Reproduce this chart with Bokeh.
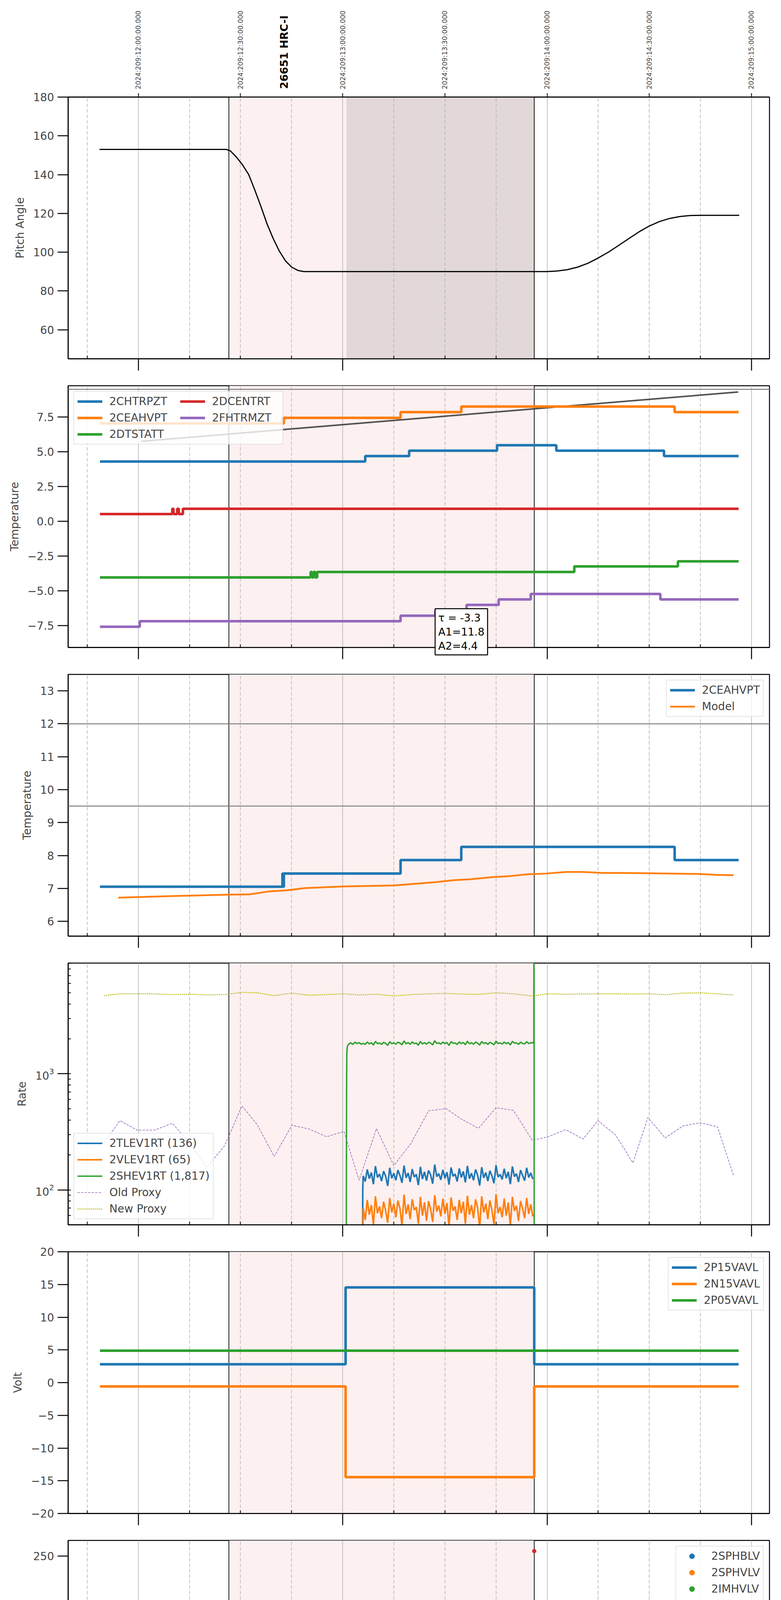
import math
from bokeh.plotting import figure
from bokeh.layouts import column
from bokeh.core.properties import value
from bokeh.models import (Range1d, LinearAxis, FixedTicker, Grid, BoxAnnotation, Span,
                          Legend, LegendItem, CustomJSTickFormatter)
from bokeh.embed import file_html
from bokeh.resources import INLINE

FONT = "DejaVu Sans"
C_BLUE, C_ORANGE, C_GREEN, C_RED = "#1f77b4", "#ff7f0e", "#2ca02c", "#d62728"
C_PURPLE, C_OLIVE = "#9467bd", "#bcbd22"
NAN = float("nan")

# ---------------- axis / time data (hours of 2024-07-27 local) ----------------
hour_ticks = [8.0, 9.0, 10.0, 11.0]
hour_labels = ["08h", "09h", "10h", "11h"]
quarter_ticks = [7.75, 8.25, 8.5, 8.75, 9.25, 9.5, 9.75, 10.25, 10.5, 10.75]
quarter_labels = ["45", "15", "30", "45", "15", "30", "45", "15", "30", "45"]
top_ticks = [8.0, 8.5, 9.0, 9.5, 10.0, 10.5, 11.0]
top_labels = ["2024:209:12:00:00.000", "2024:209:12:30:00.000", "2024:209:13:00:00.000",
              "2024:209:13:30:00.000", "2024:209:14:00:00.000", "2024:209:14:30:00.000",
              "2024:209:15:00:00.000"]
x_title = "2024-07-27 (209)"
obs_label = "26651 HRC-I"
obs_label_time = 8.714
obs_start, obs_stop = 8.443, 9.937
slew_stop = 9.018

# ---------------- panel 1: pitch ----------------
pitch_t = [7.810, 8.000, 8.200, 8.400, 8.430, 8.450, 8.480, 8.510, 8.540, 8.570, 8.600,
           8.630, 8.660, 8.690, 8.720, 8.750, 8.780, 8.810, 9.000, 9.500, 10.000, 10.050,
           10.100, 10.150, 10.200, 10.250, 10.300, 10.350, 10.400, 10.450, 10.500, 10.550,
           10.600, 10.650, 10.700, 10.760, 10.850, 10.940]
pitch_v = [153.0, 153.0, 153.0, 153.0, 153.0, 152.3, 149.0, 145.0, 140.0, 132.0, 123.5,
           114.5, 107.0, 100.5, 95.5, 92.3, 90.6, 90.0, 90.0, 90.0, 90.0, 90.3,
           91.0, 92.3, 94.3, 97.0, 100.0, 103.5, 107.0, 110.5, 113.5, 115.8,
           117.4, 118.4, 118.9, 119.0, 119.0, 119.0]
pitch_yticks = [60, 80, 100, 120, 140, 160, 180]

# ---------------- panel 2: temperatures ----------------
chtr_t = [7.812, 9.110, 9.325, 9.755, 10.045, 10.572, 10.937]
chtr_v = [4.31, 4.70, 5.09, 5.48, 5.09, 4.70, 4.70]
ceah_t = [7.812, 8.705, 8.708, 8.712, 9.283, 9.580, 10.624, 10.937]
ceah_v = [7.05, 7.45, 7.05, 7.45, 7.86, 8.26, 7.86, 7.86]
dtst_t = [7.812, 8.843, 8.850, 8.858, 8.866, 8.875, 10.133, 10.640, 10.937]
dtst_v = [-4.03, -3.64, -4.03, -3.64, -4.03, -3.64, -3.24, -2.87, -2.87]
dcen_t = [7.812, 8.166, 8.172, 8.190, 8.198, 8.218, 10.937]
dcen_v = [0.53, 0.91, 0.53, 0.91, 0.53, 0.91, 0.91]
fhtr_t = [7.812, 8.007, 9.283, 9.453, 9.606, 9.763, 9.920, 10.554, 10.937]
fhtr_v = [-7.58, -7.18, -6.79, -6.40, -6.01, -5.61, -5.22, -5.61, -5.61]
trend_t = [8.013, 10.935]
trend_v = [5.76, 9.31]
temp_yticks = [-7.5, -5.0, -2.5, 0.0, 2.5, 5.0, 7.5]
fit_text = "τ = -3.3\nA1=11.8\nA2=4.4"
fit_pos = (9.452, -6.28)

# ---------------- panel 3: 2CEAHVPT vs model ----------------
model_t = [7.902, 8.178, 8.447, 8.544, 8.641, 8.726, 8.816, 9.006, 9.250, 9.372, 9.457,
           9.543, 9.628, 9.726, 9.811, 9.908, 9.994, 10.091, 10.176, 10.274, 10.371,
           10.493, 10.737, 10.834, 10.912]
model_v = [6.72, 6.77, 6.81, 6.82, 6.91, 6.94, 7.01, 7.06, 7.09, 7.15, 7.19,
           7.25, 7.28, 7.34, 7.37, 7.43, 7.45, 7.50, 7.50, 7.47, 7.47,
           7.46, 7.44, 7.41, 7.40]
ceah_limits = [12.0, 9.5]
ceah_yticks = [6, 7, 8, 9, 10, 11, 12, 13]

# ---------------- panel 4: rates ----------------
t_on = [9.10, 9.11, 9.12, 9.13, 9.14, 9.15, 9.16, 9.17, 9.18, 9.19, 9.20, 9.21,
        9.22, 9.23, 9.24, 9.25, 9.26, 9.27, 9.28, 9.29, 9.30, 9.31, 9.32, 9.33,
        9.34, 9.35, 9.36, 9.37, 9.38, 9.39, 9.40, 9.41, 9.42, 9.43, 9.44, 9.45,
        9.46, 9.47, 9.48, 9.49, 9.50, 9.51, 9.52, 9.53, 9.54, 9.55, 9.56, 9.57,
        9.58, 9.59, 9.60, 9.61, 9.62, 9.63, 9.64, 9.65, 9.66, 9.67, 9.68, 9.69,
        9.70, 9.71, 9.72, 9.73, 9.74, 9.75, 9.76, 9.77, 9.78, 9.79, 9.80, 9.81,
        9.82, 9.83, 9.84, 9.85, 9.86, 9.87, 9.88, 9.89, 9.90, 9.91, 9.92, 9.93]
tlev_lead_t = [9.097, 9.098]
tlev_lead_v = [20, 100]
tlev_v = [132, 118, 150, 125, 141, 112, 160, 128, 137, 119, 145, 131,
          108, 155, 126, 139, 121, 148, 133, 115, 162, 127, 140, 117,
          151, 129, 136, 110, 158, 124, 143, 120, 147, 135, 113, 165,
          130, 138, 122, 149, 126, 142, 111, 156, 131, 137, 118, 153,
          128, 144, 116, 161, 125, 139, 121, 150, 134, 109, 157, 127,
          141, 119, 146, 132, 114, 163, 129, 136, 123, 152, 126, 143,
          112, 159, 130, 138, 117, 148, 133, 120, 155, 128, 140, 124]
vlev_lead_t = [9.097]
vlev_lead_v = [20]
vlev_v = [70, 55, 82, 61, 74, 50, 88, 63, 72, 57, 79, 66,
          52, 85, 64, 76, 58, 81, 69, 49, 91, 62, 75, 56,
          83, 67, 71, 51, 87, 60, 78, 54, 80, 68, 53, 90,
          65, 73, 59, 84, 62, 77, 48, 86, 66, 72, 55, 82,
          63, 79, 51, 89, 61, 74, 57, 83, 70, 47, 88, 64,
          76, 56, 81, 67, 50, 92, 63, 71, 58, 84, 60, 78,
          49, 87, 66, 73, 54, 80, 69, 57, 85, 62, 75, 59]
shev_lead_t = [9.017, 9.019, 9.020, 9.022, 9.025, 9.030, 9.040, 9.050, 9.060, 9.070, 9.080, 9.090]
shev_lead_v = [20, 850, 1500, 1700, 1760, 1810, 1850, 1790, 1880, 1820, 1860, 1800]
shev_v = [1830, 1795, 1880, 1810, 1855, 1770, 1905, 1820, 1845, 1790, 1870, 1825,
          1760, 1890, 1815, 1850, 1800, 1875, 1835, 1780, 1920, 1812, 1860, 1795,
          1885, 1822, 1840, 1765, 1900, 1808, 1858, 1798, 1872, 1838, 1775, 1930,
          1828, 1848, 1802, 1878, 1815, 1862, 1755, 1895, 1832, 1845, 1790, 1882,
          1818, 1865, 1785, 1910, 1812, 1852, 1800, 1876, 1840, 1768, 1898, 1825,
          1858, 1792, 1870, 1830, 1778, 1915, 1822, 1848, 1805, 1880, 1815, 1862,
          1772, 1905, 1835, 1850, 1795, 1874, 1828, 1808, 1892, 1820, 1855, 1840]
shev_tail_t = [9.935, 9.936, 9.937]
shev_tail_v = [1900, 200000, 1]
proxy_t = [7.832, 7.910, 7.995, 8.080, 8.166, 8.251, 8.336, 8.422, 8.507, 8.580, 8.665,
           8.751, 8.836, 8.921, 9.006, 9.080, 9.165, 9.250, 9.335, 9.420, 9.506, 9.579,
           9.664, 9.750, 9.835, 9.928, 10.006, 10.091, 10.176, 10.249, 10.335, 10.420,
           10.493, 10.578, 10.664, 10.749, 10.834, 10.912]
old_proxy_v = [253, 395, 327, 327, 375, 253, 157, 240, 529, 368, 194,
               361, 334, 287, 319, 121, 337, 162, 253, 480, 501, 409,
               339, 510, 484, 267, 287, 331, 274, 395, 297, 171,
               420, 280, 355, 379, 349, 133]
new_proxy_v = [4719, 4889, 4889, 4889, 4820, 4854, 4786, 4820, 5029, 4993, 4719,
               4957, 4753, 4820, 4889, 4786, 4854, 4686, 4820, 4889, 4940, 4872,
               4837, 4993, 4889, 4686, 4889, 4854, 4872, 4889, 4889, 4872,
               4889, 4803, 4957, 4993, 4889, 4770]
rate_labels = ["2TLEV1RT (136)", "2VLEV1RT (65)", "2SHEV1RT (1,817)", "Old Proxy", "New Proxy"]

# ---------------- panel 5: voltages ----------------
volt_t = [7.812, 9.014, 9.937, 10.937]
p15_v = [2.80, 14.55, 2.80, 2.80]
n15_v = [-0.58, -14.45, -0.58, -0.58]
p05_t = [7.812, 10.937]
p05_v = [4.88, 4.88]
volt_yticks = [-20, -15, -10, -5, 0, 5, 10, 15, 20]

# ---------------- panel 6: HV monitors ----------------
imhb_lead_t = [9.043, 9.043, 9.044, 9.044, 9.050, 9.055, 9.063, 9.070, 9.080, 9.086, 9.092, 9.099]
imhb_lead_v = [126.9, 125.0, 122.2, 115.1, 105.3, 103.5, 101.0, 96.9, 93.1, 91.8, 89.4, 85.6]
imhb_v = [85.8, 85.6, 85.5, 85.7, 85.6, 85.6, 85.4, 85.6, 85.7, 85.6, 85.5, 85.6,
          85.6, 85.7, 85.6, 79.0, 85.6, 85.5, 85.6, 85.7, 85.6, 85.6, 85.4, 85.6,
          85.7, 85.6, 85.5, 85.6, 85.6, 85.7, 85.6, 85.5, 85.6, 85.6, 85.7, 85.6,
          85.6, 85.5, 85.6, 85.7, 85.6, 85.6, 85.4, 85.6, 79.0, 85.6, 85.7, 85.6,
          85.5, 85.6, 85.6, 85.7, 85.6, 85.5, 85.6, 85.6, 85.7, 85.6, 85.4, 85.6,
          85.6, 85.7, 85.6, 85.5, 85.6, 85.6, 85.7, 85.6, 85.5, 85.6, 85.6, 85.7,
          85.6, 85.5, 85.6, 85.6, 85.7, 85.6, 85.4, 85.6, 85.6, 85.7, 85.6, 85.6]
imhb_tail_t = [9.935, 9.937]
imhb_tail_v = [85.6, 255.2]
imhv_lead_t = [9.043, 9.043, 9.055, 9.065, 9.075, 9.085, 9.094]
imhv_lead_v = [108.1, 99.3, 95.6, 90.0, 85.6, 82.8, 79.1]
imhv_v = [79.1, 78.8, 79.3, 79.0, 79.1, 78.7, 79.2, 79.1, 78.9, 79.1, 79.3, 79.0,
          79.1, 78.8, 126.9, 79.1, 79.0, 79.2, 78.8, 79.1, 79.0, 79.3, 79.1, 78.9,
          79.1, 79.0, 79.2, 78.8, 79.1, 79.1, 79.0, 78.7, 79.2, 79.1, 79.0, 79.1,
          78.9, 79.1, 79.2, 79.0, 79.1, 78.8, 79.1, 126.9, 79.0, 79.2, 79.1, 78.9,
          79.1, 79.0, 79.3, 79.1, 78.8, 79.1, 79.0, 79.2, 79.1, 78.9, 79.1, 79.0,
          79.2, 79.1, 78.8, 79.1, 79.0, 79.1, 79.3, 79.0, 78.9, 79.1, 79.1, 79.0,
          79.1, 78.9, 79.2, 79.1, 79.0, 79.1, 78.8, 79.1, 79.2, 79.0, 79.1, 79.1]
imhv_tail_t = [9.935]
imhv_tail_v = [79.1]
sph_missing_t = [NAN]          # 2SPHBLV / 2SPHVLV have no valid samples
sph_missing_v = [NAN]
hv_labels = ["2SPHBLV", "2SPHVLV", "2IMHVLV", "2IMHBLV"]
hv_yticks = [0, 50, 100, 150, 200, 250]

# ---------------- panel 7: detector temps ----------------
spin_t = [9.020, 9.026, 9.228, 9.236, 9.251, 9.259, 9.285, 9.293, 9.466, 9.474, 9.486, 9.494, 9.534, 9.542, 9.927]
spin_v = [2.60, 3.15, -2.0, 3.15, -2.0, 3.15, -2.0, 3.15, -2.0, 3.15, -2.0, 3.15, -2.0, 3.15, 3.15]
sphv_t = [9.020, 9.024, 9.158, 9.166, 9.176, 9.186, 9.198, 9.208, 9.218, 9.228, 9.236, 9.251,
          9.259, 9.285, 9.293, 9.466, 9.474, 9.486, 9.494, 9.534, 9.542, 9.864, 9.927]
sphv_v = [14.6, 15.67, 15.33, 15.67, 15.33, 15.67, 15.33, 15.67, 15.33, 8.37, 15.67, 8.64,
          15.67, 8.64, 15.67, 9.31, 15.67, 9.31, 15.67, 9.31, 15.67, 16.0, 16.0]
imin_t = [9.020, 9.043, 9.228, 9.236, 9.251, 9.259, 9.285, 9.293, 9.466, 9.474, 9.486, 9.494, 9.534, 9.542, 9.927]
imin_v = [0.35, 0.83, 3.15, 0.83, 3.15, 0.83, 3.15, 0.83, 3.15, 0.83, 3.15, 0.83, 3.15, 0.83, 0.83]
imhva_t = [9.020, 9.024, 9.104, 9.241, 9.247, 9.250, 9.348, 9.460, 9.538, 9.544, 9.577, 9.728,
           9.884, 9.935, 9.937, 9.939]
imhva_v = [-5.0, 14.62, 15.0, 15.67, 15.0, 15.33, 15.67, 16.0, 15.67, 16.0, 16.36, 16.71,
           17.06, 30.0, -5.0, -5.0]
det_labels = ["2SPINATM", "2SPHVATM", "2IMINATM", "2IMHVATM"]
det_yticks = [0.0, 2.5, 5.0, 7.5, 10.0, 12.5, 15.0, 17.5]

# ---------------- panel 8: FEA temps ----------------
frad_t = [7.812, 8.873, 9.267, 9.448, 9.621, 9.806, 9.991, 10.098, 10.676, 10.683, 10.705, 10.937]
frad_v = [-9.22, -9.63, -9.22, -8.81, -8.41, -8.00, -7.60, -8.00, -8.41, -8.00, -8.41, -8.41]
fepr_t = [9.017, 9.019, 9.055, 9.097, 9.148, 9.204, 9.267, 9.362, 9.489, 9.591, 9.733, 9.879, 9.931, 9.933]
fepr_v = [-8.55, -7.71, -7.29, -6.87, -6.46, -6.04, -5.63, -5.21, -4.80, -4.38, -3.97, -3.55, -12.0, -12.0]
fe00_t = [9.020, 9.024, 9.121,
          9.226, 9.227, 9.229, 9.236, 9.237, 9.239,
          9.248, 9.249, 9.251, 9.262, 9.263, 9.265,
          9.289, 9.290, 9.292, 9.355, 9.460,
          9.469, 9.470, 9.472, 9.489, 9.490, 9.492,
          9.522, 9.523, 9.525, 9.532, 9.533, 9.535,
          9.542, 9.543, 9.545, 9.567, 9.677, 9.774, 9.779, 9.786,
          9.913, 9.935, 9.937, 9.939]
fe00_v = [-12.0, -8.57, -8.21,
          0.0, -12.0, -8.21, 0.0, -12.0, -8.21,
          0.0, -12.0, -7.84, 0.0, -12.0, -7.84,
          0.0, -12.0, -7.84, -7.47, -7.13,
          0.0, -12.0, -7.13, 0.0, -12.0, -7.13,
          0.0, -12.0, -7.13, 0.0, -12.0, -7.13,
          0.0, -12.0, -7.13, -6.76, -6.41, -7.15, -6.41, -6.05,
          -5.70, 0.0, -12.0, -12.0]
fea_labels = ["2FHTRMZT", "2FRADPYT", "2FEPRATM", "2FE00ATM"]
fea_yticks = [-11, -10, -9, -8, -7, -6, -5, -4, -3]

# ---------------- layout helpers ----------------
FW, FH = 1796, 670
BL, BR = 174, 16
x_range = Range1d(7.6565, 11.088)


def num_fmt(d):
    return CustomJSTickFormatter(args=dict(d=d),
                                 code="return tick.toFixed(d).replace('-', '\\u2212');")


def lab_fmt(ts, ls):
    return CustomJSTickFormatter(args=dict(ts=ts, ls=ls), code="""
        for (let i = 0; i < ts.length; i++) { if (Math.abs(ts[i] - tick) < 1e-6) return ls[i]; }
        return "";
    """)


def make_panel(ylabel, y0, y1, yticks=None, dec=0, first=False, last=False, log=False, dark=False):
    p = figure(title=None, frame_width=FW, frame_height=FH, x_range=x_range, y_range=Range1d(y0, y1),
               y_axis_type="log" if log else "linear", x_axis_location=None,
               output_backend="svg", toolbar_location=None,
               min_border_left=BL, min_border_right=BR,
               min_border_top=248 if first else 20, min_border_bottom=108 if last else 49,
               background_fill_color="white", border_fill_color="white")
    p.outline_line_color = "black"
    p.outline_line_width = 2.5
    p.outline_line_alpha = 1.0
    p.ygrid.visible = False
    ya = p.yaxis[0]
    ya.axis_label = ylabel
    ya.axis_label_text_font = FONT
    ya.axis_label_text_font_size = "28px"
    ya.axis_label_text_font_style = "normal"
    ya.axis_label_standoff = 14
    ya.major_label_text_font = FONT
    ya.major_label_text_font_size = "28px"
    ya.major_label_standoff = 9
    ya.major_tick_out = 27
    ya.major_tick_in = 0
    ya.major_tick_line_width = 2.5
    ya.axis_line_width = 2.5
    if log:
        ya.minor_tick_in = 7
        ya.minor_tick_out = 0
        ya.minor_tick_line_width = 2
    else:
        ya.ticker = FixedTicker(ticks=yticks, minor_ticks=[])
        ya.formatter = num_fmt(dec)
        ya.minor_tick_in = 0
        ya.minor_tick_out = 0

    # background shading, grid, observation edges
    p.add_layout(BoxAnnotation(left=obs_start, right=obs_stop, fill_color="#fdf0f0", fill_alpha=1.0,
                               line_color=None, level="underlay"))
    if dark:
        p.add_layout(BoxAnnotation(left=slew_stop, right=obs_stop, fill_color="#e2d8d8", fill_alpha=1.0,
                                   line_color=None, level="underlay"))
    p.add_layout(Grid(dimension=0, ticker=FixedTicker(ticks=hour_ticks), grid_line_color="#b0b0b0",
                      grid_line_width=1.5))
    p.add_layout(Grid(dimension=0, ticker=FixedTicker(ticks=quarter_ticks), grid_line_color="#b0b0b0",
                      grid_line_width=1.5, grid_line_dash="9 5"))
    for loc in (obs_start, obs_stop):
        p.add_layout(Span(location=loc, dimension="height", line_color="black", line_width=1.8,
                          level="underlay"))

    if last:
        # quarter-hour labels right under the frame, short inward ticks
        axa = LinearAxis(ticker=FixedTicker(ticks=quarter_ticks, minor_ticks=[]),
                         formatter=lab_fmt(quarter_ticks, quarter_labels))
        axa.major_tick_in = 8
        axa.major_tick_out = 0
        axa.minor_tick_in = 0
        axa.minor_tick_out = 0
        axa.major_tick_line_width = 2
        axa.axis_line_width = 2.5
        axa.major_label_text_font = FONT
        axa.major_label_text_font_size = "18px"
        axa.major_label_standoff = 6
        p.add_layout(axa, "below")
        # hour labels below; their long ticks reach back up to the frame edge
        axb = LinearAxis(ticker=FixedTicker(ticks=hour_ticks, minor_ticks=[]),
                         formatter=lab_fmt(hour_ticks, hour_labels), axis_label=x_title)
        axb.axis_line_color = None
        axb.minor_tick_line_color = None
        axb.major_tick_line_width = 2.5
        axb.major_tick_in = 27
        axb.major_tick_out = 3
        axb.major_label_text_font = FONT
        axb.major_label_text_font_size = "26px"
        axb.major_label_standoff = 6
        axb.axis_label_text_font = FONT
        axb.axis_label_text_font_size = "33px"
        axb.axis_label_text_font_style = "normal"
        axb.axis_label_standoff = 3
        p.add_layout(axb, "below")
    else:
        ax = LinearAxis(ticker=FixedTicker(ticks=hour_ticks, minor_ticks=quarter_ticks),
                        formatter=lab_fmt([], []))
        ax.major_tick_out = 30
        ax.major_tick_in = 0
        ax.minor_tick_in = 8
        ax.minor_tick_out = 0
        ax.major_tick_line_width = 2.5
        ax.minor_tick_line_width = 2
        ax.axis_line_width = 2.5
        ax.major_label_text_font_size = "2px"
        ax.major_label_standoff = 0
        p.add_layout(ax, "below")
    return p


def add_legend(p, items, loc, ncols=1, label_width=20):
    leg = Legend(items=[LegendItem(label=l, renderers=[r]) for l, r in items], location=loc)
    leg.ncols = ncols
    leg.margin = 14
    leg.padding = 8
    leg.spacing = 9
    leg.label_text_font = FONT
    leg.label_text_font_size = "28px"
    leg.label_height = 33
    leg.label_width = label_width
    leg.glyph_height = 33
    leg.glyph_width = 64
    leg.label_standoff = 18
    leg.border_line_color = "#cccccc"
    leg.border_line_width = 2.5
    leg.background_fill_color = "white"
    leg.background_fill_alpha = 0.8
    p.add_layout(leg)
    return leg


# ---------------- panel 1 ----------------
p1 = make_panel("Pitch Angle", 45, 180, pitch_yticks, 0, first=True, dark=True)
p1.line(pitch_t, pitch_v, line_color="black", line_width=3)
axt = LinearAxis(ticker=FixedTicker(ticks=top_ticks, minor_ticks=[]), formatter=lab_fmt(top_ticks, top_labels))
axt.major_label_orientation = "vertical"
axt.major_label_text_font = FONT
axt.major_label_text_font_size = "17px"
axt.major_label_standoff = 10
axt.major_tick_out = 10
axt.major_tick_in = 0
axt.major_tick_line_width = 2
axt.axis_line_width = 2.5
p1.add_layout(axt, "above")
# observation label sits above the frame (text glyph on the overlay level, y just above 180)
p1.text(x=[obs_label_time], y=[184.2], text=[obs_label], angle=math.pi / 2,
        text_align="left", text_baseline="middle", text_font=value(FONT),
        text_font_style="bold", text_font_size="27px", text_color="black", level="overlay")

# ---------------- panel 2 ----------------
p2 = make_panel("Temperature", -9.07, 9.76, temp_yticks, 1)
p2.add_layout(Span(location=9.5, dimension="width", line_color="#808080", line_width=2.5))
p2.line(trend_t, trend_v, line_color="#404040", line_alpha=0.9, line_width=4)
r_chtr = p2.step(chtr_t, chtr_v, mode="after", line_color=C_BLUE, line_width=6.5)
r_ceah = p2.step(ceah_t, ceah_v, mode="after", line_color=C_ORANGE, line_width=6.5)
r_dtst = p2.step(dtst_t, dtst_v, mode="after", line_color=C_GREEN, line_width=6.5)
r_dcen = p2.step(dcen_t, dcen_v, mode="after", line_color=C_RED, line_width=6.5)
r_fhtr = p2.step(fhtr_t, fhtr_v, mode="after", line_color=C_PURPLE, line_width=6.5)
add_legend(p2, [("2CHTRPZT", r_chtr), ("2CEAHVPT", r_ceah), ("2DTSTATT", r_dtst),
                ("2DCENTRT", r_dcen), ("2FHTRMZT", r_fhtr)], "top_left", ncols=2, label_width=172)
p2.text(x=[fit_pos[0]], y=[fit_pos[1]], text=[fit_text], text_align="left", text_baseline="top",
        text_font=value(FONT), text_font_size="27px", text_color="black", padding=8,
        text_line_height=1.15,
        background_fill_color="white", border_line_color="black", border_line_width=2.5,
        level="overlay")

# ---------------- panel 3 ----------------
p3 = make_panel("Temperature", 5.55, 13.5, ceah_yticks, 0)
for lim in ceah_limits:
    p3.add_layout(Span(location=lim, dimension="width", line_color="#808080", line_width=2.5))
r3a = p3.step(ceah_t, ceah_v, mode="after", line_color=C_BLUE, line_width=6.5)
r3b = p3.line(model_t, model_v, line_color=C_ORANGE, line_width=4.5)
add_legend(p3, [("2CEAHVPT", r3a), ("Model", r3b)], "top_right")

# ---------------- panel 4 ----------------
p4 = make_panel("Rate", 50, 9000, log=True)
r4a = p4.line(tlev_lead_t + t_on, tlev_lead_v + tlev_v, line_color=C_BLUE, line_width=4)
r4b = p4.line(vlev_lead_t + t_on, vlev_lead_v + vlev_v, line_color=C_ORANGE, line_width=4)
r4c = p4.line(shev_lead_t + t_on + shev_tail_t, shev_lead_v + shev_v + shev_tail_v,
              line_color=C_GREEN, line_width=3.5)
r4d = p4.line(proxy_t, old_proxy_v, line_color=C_PURPLE, line_width=1.6, line_dash="6 3")
r4e = p4.line(proxy_t, new_proxy_v, line_color=C_OLIVE, line_width=2.5, line_dash="3 2")
add_legend(p4, list(zip(rate_labels, [r4a, r4b, r4c, r4d, r4e])), "bottom_left")

# ---------------- panel 5 ----------------
p5 = make_panel("Volt", -20, 20, volt_yticks, 0)
r5a = p5.step(volt_t, p15_v, mode="after", line_color=C_BLUE, line_width=6.5)
r5b = p5.step(volt_t, n15_v, mode="after", line_color=C_ORANGE, line_width=6.5)
r5c = p5.step(p05_t, p05_v, mode="after", line_color=C_GREEN, line_width=6.5)
add_legend(p5, [("2P15VAVL", r5a), ("2N15VAVL", r5b), ("2P05VAVL", r5c)], "top_right")

# ---------------- panel 6 ----------------
p6 = make_panel("HV Monitor", 0, 266, hv_yticks, 0)
r6a = p6.scatter(sph_missing_t, sph_missing_v, size=10, color=C_BLUE)
r6b = p6.scatter(sph_missing_t, sph_missing_v, size=10, color=C_ORANGE)
r6c = p6.scatter(imhv_lead_t + t_on + imhv_tail_t, imhv_lead_v + imhv_v + imhv_tail_v, size=10, color=C_GREEN)
r6d = p6.scatter(imhb_lead_t + t_on + imhb_tail_t, imhb_lead_v + imhb_v + imhb_tail_v, size=10, color=C_RED)
add_legend(p6, list(zip(hv_labels, [r6a, r6b, r6c, r6d])), "top_right")

# ---------------- panel 7 ----------------
p7 = make_panel("Detector Temp", -0.64, 17.85, det_yticks, 1)
r7a = p7.step(spin_t, spin_v, mode="after", line_color=C_BLUE, line_width=6.5)
r7b = p7.step(sphv_t, sphv_v, mode="after", line_color=C_ORANGE, line_width=6.5)
r7c = p7.step(imin_t, imin_v, mode="after", line_color=C_GREEN, line_width=6.5)
r7d = p7.step(imhva_t, imhva_v, mode="after", line_color=C_RED, line_width=6.5)
add_legend(p7, list(zip(det_labels, [r7a, r7b, r7c, r7d])), "top_right")

# ---------------- panel 8 ----------------
p8 = make_panel("FEA Temp", -11.13, -2.88, fea_yticks, 0, last=True)
r8a = p8.step(fhtr_t, fhtr_v, mode="after", line_color=C_BLUE, line_width=6.5)
r8b = p8.step(frad_t, frad_v, mode="after", line_color=C_ORANGE, line_width=6.5)
r8c = p8.step(fepr_t, fepr_v, mode="after", line_color=C_GREEN, line_width=6.5)
r8d = p8.step(fe00_t, fe00_v, mode="after", line_color=C_RED, line_width=6.5)
add_legend(p8, list(zip(fea_labels, [r8a, r8b, r8c, r8d])), "top_right")

layout = column(p1, p2, p3, p4, p5, p6, p7, p8, spacing=0)
with open("out.html", "w", encoding="utf-8") as f:
    f.write(file_html(layout, INLINE, title="HRC-I 26651"))
